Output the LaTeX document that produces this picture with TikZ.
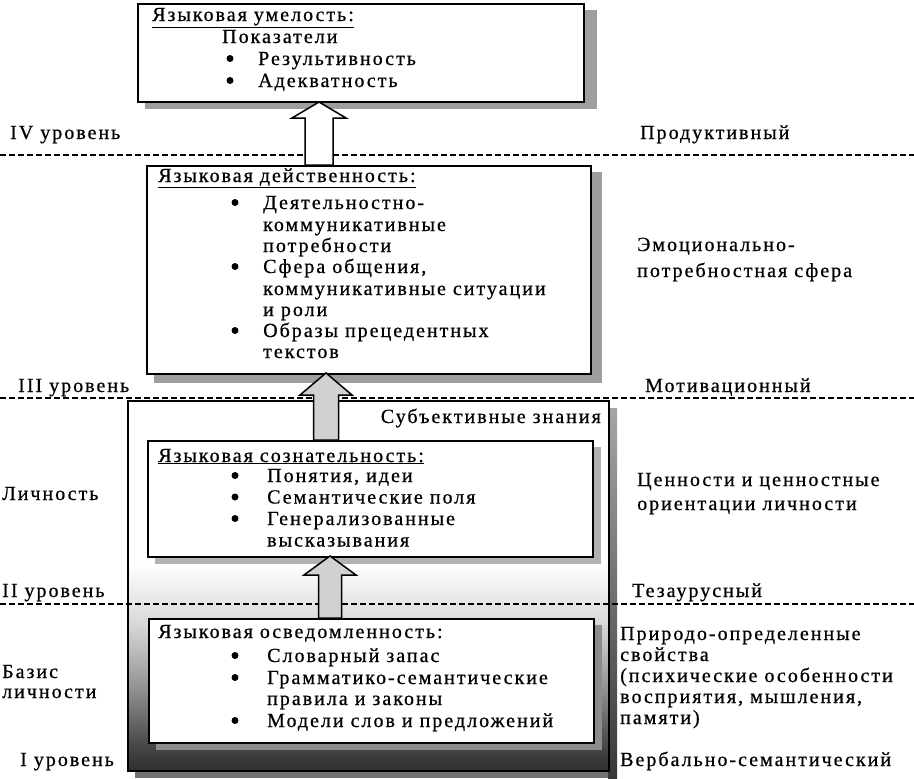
\documentclass[tikz,border=0pt]{standalone}
\usepackage{fontspec}
\setmainfont{Liberation Serif}[LetterSpace=10,FakeBold=0.7]
\usetikzlibrary{calc}
\pgfdeclareverticalshading{outshade}{100bp}{color(0bp)=(black!82); color(25bp)=(black!82); color(29bp)=(black!70); color(37bp)=(black!40); color(45bp)=(black!15); color(53bp)=(white); color(100bp)=(white)}
\newcommand{\blkarrow}[7]{%
  \filldraw[arrowst,fill=#7] ({#1-#4},#2) -- ({#1-#4},{#3+#6}) -- ({#1-#5},{#3+#6}) -- (#1,#3) -- ({#1+#5},{#3+#6}) -- ({#1+#4},{#3+#6}) -- ({#1+#4},#2) -- cycle;}
\newcommand{\fs}{\fontsize{20}{22}\selectfont}
\newcommand{\ul}[1]{\underline{#1}}
\tikzset{
  lbl/.style={anchor=base west, inner sep=0pt, font=\fs},
  boxst/.style={draw, line width=1.5pt, fill=white, anchor=north west, inner sep=0pt},
  shad/.style={fill=black!38},
  lvl/.style={draw, line width=1.8pt, dash pattern=on 6pt off 3pt},
  arrowst/.style={draw, line width=1.5pt, line join=miter},
  bul/.style={fill=black}
}
\begin{document}
\begin{tikzpicture}[x=1pt,y=-1pt]
\useasboundingbox (0,0) rectangle (914,779);
% outer box (subjective knowledge) with shadow
\fill[black!55] (135,770) rectangle (617,778);
\shade[top color=black!35, bottom color=black!78] (608,408) rectangle (617,778);
\node[boxst, minimum width=481, minimum height=370, shading=outshade, line width=2pt] (outer) at (127,400) {};
% level lines
\coordinate (l4a) at (0,155);   \coordinate (l4b) at (914,155);
\coordinate (l3a) at (0,398);   \coordinate (l3b) at (914,398);
\coordinate (l2a) at (0,604);   \coordinate (l2b) at (914,604);
\draw[lvl] (l4a) -- (l4b);
\draw[lvl] (l3a) -- (l3b);
\draw[lvl] (l2a) -- (l2b);
% box shadows
\fill[shad] (145,10) rectangle (597,109);
\fill[shad] (154,172) rectangle (602,383);
\fill[black!30] (155,447) rectangle (601,564);
\fill[black!45] (156,625) rectangle (602,750);
% boxes
\node[boxst, minimum width=446, minimum height=98] (b1) at (137,3) {};
\node[boxst, minimum width=444, minimum height=208] (b2) at (146,165) {};
\node[boxst, minimum width=445, minimum height=116] (b3) at (147,440) {};
\node[boxst, minimum width=445, minimum height=124] (b4) at (148,618) {};
% block arrows
\blkarrow{319}{165}{102}{14}{27}{16}{white}
\blkarrow{326}{440}{373}{12.5}{26}{22}{black!18}
\blkarrow{330}{618}{556}{11.5}{26}{19}{black!18}
% box 1
\node[lbl] (t1) at (152,21) {\ul{Языковая умелость:}};
\node[lbl] (t1a) at (222,43) {Показатели};
\fill[bul] (230,58.5) circle (3.5);
\node[lbl] (t1b) at (258,65) {Результивность};
\fill[bul] (230,80.5) circle (3.5);
\node[lbl] (t1c) at (258,87) {Адекватность};
% box 2
\node[lbl] (t2) at (158,182) {\ul{Языковая действенность:}};
\fill[bul] (235,202.5) circle (3.5);
\node[lbl] (t2a) at (263,209) {Деятельностно-};
\node[lbl] (t2b) at (263,231) {коммуникативные};
\node[lbl] (t2c) at (263,252) {потребности};
\fill[bul] (235,266.5) circle (3.5);
\node[lbl] (t2d) at (263,273) {Сфера общения,};
\node[lbl] (t2e) at (263,295) {коммуникативные ситуации};
\node[lbl] (t2f) at (263,316) {и роли};
\fill[bul] (235,330.5) circle (3.5);
\node[lbl] (t2g) at (263,337) {Образы прецедентных};
\node[lbl] (t2h) at (263,358) {текстов};
% outer label
\node[lbl, anchor=base east] (sz) at (601,423) {Субъективные знания};
% box 3
\node[lbl] (t3) at (158,462) {\ul{Языковая сознательность:}};
\fill[bul] (235,475.5) circle (3.5);
\node[lbl] (t3a) at (267,482) {Понятия, идеи};
\fill[bul] (235,497) circle (3.5);
\node[lbl] (t3b) at (267,503.5) {Семантические поля};
\fill[bul] (235,518.5) circle (3.5);
\node[lbl] (t3c) at (267,525) {Генерализованные};
\node[lbl] (t3d) at (267,546.5) {высказывания};
% box 4
\node[lbl] (t4) at (158,638) {Языковая осведомленность:};
\fill[bul] (235,655.5) circle (3.5);
\node[lbl] (t4a) at (267,662) {Словарный запас};
\fill[bul] (235,677.5) circle (3.5);
\node[lbl] (t4b) at (267,684) {Грамматико-семантические};
\node[lbl] (t4c) at (267,705) {правила и законы};
\fill[bul] (235,720.5) circle (3.5);
\node[lbl] (t4d) at (267,727) {Модели слов и предложений};
% left labels
\node[lbl] (L4) at (10,139) {IV уровень};
\node[lbl] (L3) at (18,392) {III уровень};
\node[lbl] (Lp) at (2,500) {Личность};
\node[lbl] (L2) at (2,597) {II уровень};
\node[lbl] (Lb1) at (2,678) {Базис};
\node[lbl] (Lb2) at (2,698) {личности};
\node[lbl] (L1) at (20,766) {I уровень};
% right labels
\node[lbl] (R4) at (640,139) {Продуктивный};
\node[lbl] (Re1) at (637,251) {Эмоционально-};
\node[lbl] (Re2) at (637,277) {потребностная сфера};
\node[lbl] (R3) at (645,392) {Мотивационный};
\node[lbl] (Rc1) at (637,486) {Ценности и ценностные};
\node[lbl] (Rc2) at (637,510) {ориентации личности};
\node[lbl] (R2) at (632,597) {Тезаурусный};
\node[lbl] (Rn1) at (620,640) {Природо-определенные};
\node[lbl] (Rn2) at (620,661) {свойства};
\node[lbl] (Rn3) at (620,682) {(психические особенности};
\node[lbl] (Rn4) at (620,703) {восприятия, мышления,};
\node[lbl] (Rn5) at (620,724) {памяти)};
\node[lbl] (R1) at (620,766) {Вербально-семантический};
\end{tikzpicture}
\end{document}
